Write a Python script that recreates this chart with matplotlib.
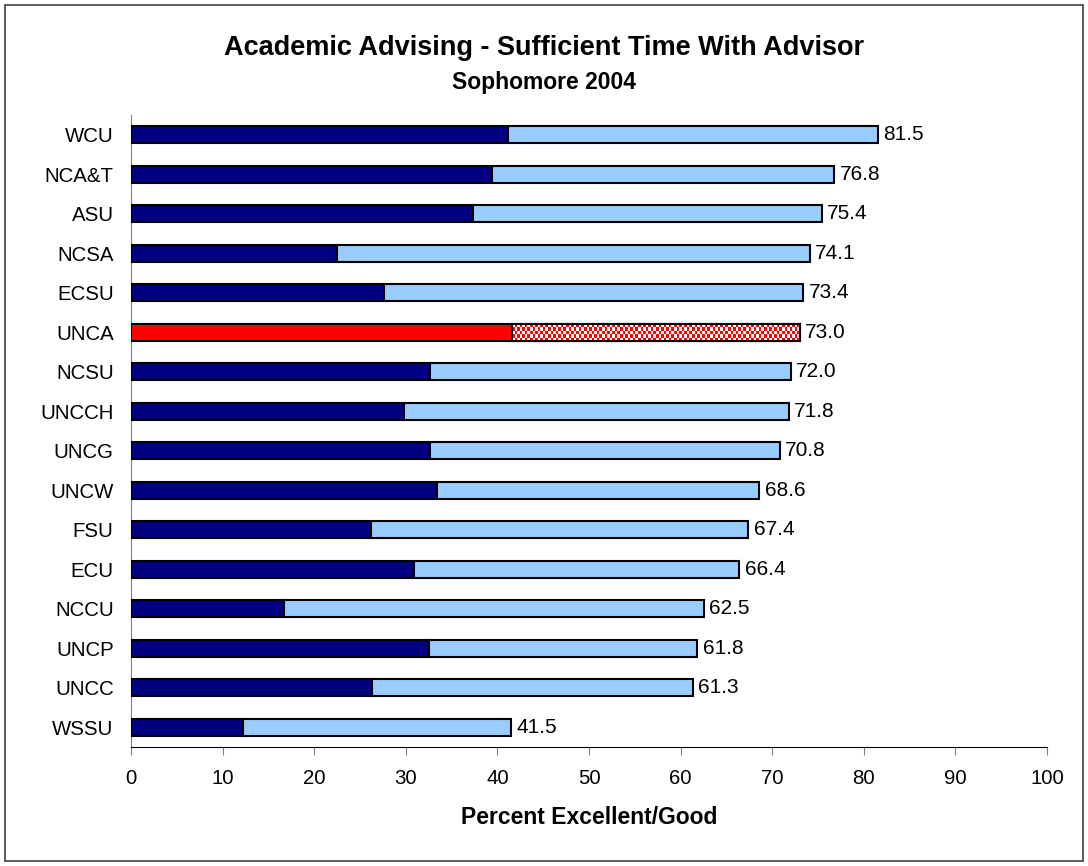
import matplotlib.pyplot as plt
import matplotlib.patches as patches
import numpy as np

plt.rcParams['font.family'] = ['Liberation Sans', 'DejaVu Sans']

# schools top to bottom, total % excellent/good and the "excellent" part
schools = ["WCU", "NCA&T", "ASU", "NCSA", "ECSU", "UNCA", "NCSU", "UNCCH",
           "UNCG", "UNCW", "FSU", "ECU", "NCCU", "UNCP", "UNCC", "WSSU"]
total = [81.5, 76.8, 75.4, 74.1, 73.4, 73.0, 72.0, 71.8,
         70.8, 68.6, 67.4, 66.4, 62.5, 61.8, 61.3, 41.5]
excellent = [41.2, 39.4, 37.3, 22.5, 27.6, 41.6, 32.6, 29.8,
             32.6, 33.4, 26.2, 30.9, 16.7, 32.5, 26.3, 12.2]
good = [t - e for t, e in zip(total, excellent)]
highlight = "UNCA"
x_ticks = list(range(0, 101, 10))

fig = plt.figure(figsize=(10.88, 8.66), dpi=100)
ax = fig.add_axes([131 / 1088, 1 - 747 / 866, 916 / 1088, 632 / 866])

# figure border
fig.patches.append(patches.Rectangle((5 / 1088, 5 / 866), 1078 / 1088, 856 / 866,
                                     transform=fig.transFigure, fill=False,
                                     edgecolor="#404040", linewidth=1.2))

y = np.arange(len(schools))
h = 0.43
dark_cols = ["red" if s == highlight else "#000080" for s in schools]
light_cols = ["white" if s == highlight else "#99CCFF" for s in schools]

ax.barh(y, excellent, height=h, color=dark_cols, edgecolor="black", linewidth=1.5, zorder=3)
light = ax.barh(y, good, left=excellent, height=h, color=light_cols,
                edgecolor="black", linewidth=1.5, zorder=3)

# checkerboard fill for the highlighted school's "good" part
i = schools.index(highlight)
rect = light[i]
fig.canvas.draw()
bb = rect.get_window_extent()
nx = max(1, int(round(bb.width / 3)))
ny = max(1, int(round(bb.height / 3)))
checker = (np.add.outer(np.arange(ny), np.arange(nx)) % 2)
cmap = plt.matplotlib.colors.ListedColormap(["white", "red"])
im = ax.imshow(checker, cmap=cmap, interpolation="nearest", aspect="auto",
               extent=(excellent[i], total[i], y[i] + h / 2, y[i] - h / 2), zorder=3.5)
im.set_clip_path(rect)
ax.add_patch(patches.Rectangle((excellent[i], y[i] - h / 2), good[i], h, fill=False,
                               edgecolor="black", linewidth=1.5, zorder=4))

for yi, t in zip(y, total):
    ax.annotate(f"{t:.1f}", (t, yi), xytext=(4, 0), textcoords="offset points",
                va="center", ha="left", fontsize=15)

ax.set_xlim(0, 100)
ax.set_ylim(len(schools) - 0.5, -0.5)
ax.set_xticks(x_ticks)
ax.set_yticks(y)
ax.set_yticklabels(schools, fontsize=14.7)
ax.tick_params(axis="x", labelsize=14.7, direction="out", length=6, color="#808080", pad=10)
ax.tick_params(axis="y", length=0, pad=12.5)
for s in ["top", "right"]:
    ax.spines[s].set_visible(False)
ax.spines["left"].set_color("#808080")
ax.spines["bottom"].set_color("black")
ax.set_xlabel("Percent Excellent/Good", fontsize=16.5, fontweight="bold", va="center")
ax.xaxis.set_label_coords(0.5 * (131 + 1047) / 1088, 1 - 817 / 866, transform=fig.transFigure)

fig.text(0.5, 1 - 48 / 866, "Academic Advising - Sufficient Time With Advisor",
         ha="center", va="center", fontsize=19.5, fontweight="bold")
fig.text(0.5, 1 - 83 / 866, "Sophomore 2004", ha="center", va="center",
         fontsize=16.5, fontweight="bold")

plt.savefig("out.png", dpi=100)
